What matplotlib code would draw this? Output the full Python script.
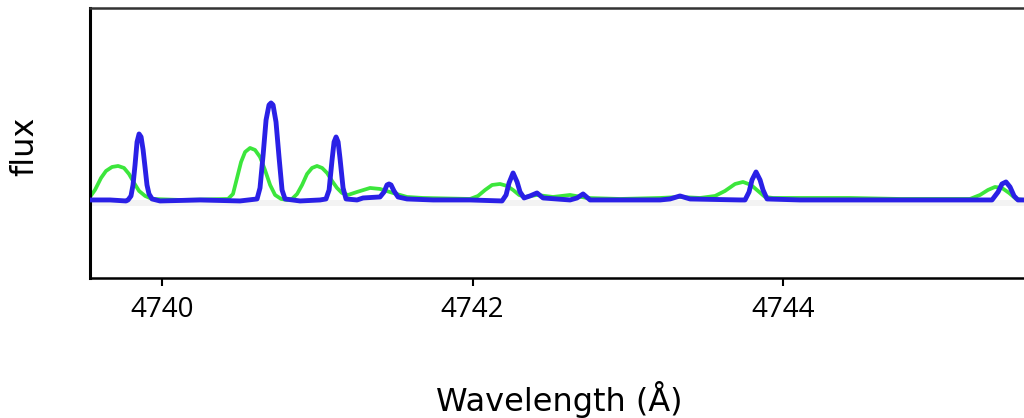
import matplotlib
matplotlib.use("Agg")
import matplotlib.pyplot as plt

# spectrum samples (wavelength in Angstrom, normalised flux)
blue_wave = [4739.536, 4739.665, 4739.768, 4739.781, 4739.800, 4739.813, 4739.826,
             4739.839, 4739.852, 4739.865, 4739.878, 4739.891, 4739.903, 4739.916,
             4739.936, 4739.987, 4740.245, 4740.502, 4740.612, 4740.631, 4740.651,
             4740.670, 4740.689, 4740.702, 4740.715, 4740.734, 4740.754, 4740.773,
             4740.792, 4740.889, 4741.018, 4741.056, 4741.076, 4741.095, 4741.108,
             4741.121, 4741.134, 4741.146, 4741.166, 4741.185, 4741.256, 4741.295,
             4741.404, 4741.430, 4741.449, 4741.462, 4741.475, 4741.494, 4741.520,
             4741.578, 4741.746, 4741.984, 4742.190, 4742.216, 4742.235, 4742.261,
             4742.287, 4742.306, 4742.332, 4742.370, 4742.415, 4742.454, 4742.628,
             4742.673, 4742.712, 4742.757, 4742.950, 4743.208, 4743.272, 4743.336,
             4743.401, 4743.723, 4743.755, 4743.781, 4743.800, 4743.826, 4743.852,
             4743.871, 4743.897, 4744.109, 4744.431, 4744.754, 4745.076, 4745.346,
             4745.385, 4745.410, 4745.436, 4745.462, 4745.488, 4745.513, 4745.552]
blue_flux = [1.00, 1.00, 0.99, 1.00, 1.04, 1.15, 1.35,
             1.58, 1.66, 1.63, 1.50, 1.32, 1.15, 1.06,
             1.01, 0.99, 1.00, 0.99, 1.01, 1.12, 1.45,
             1.80, 1.95, 1.97, 1.95, 1.78, 1.42, 1.10,
             1.01, 0.99, 1.00, 1.01, 1.10, 1.40, 1.58,
             1.63, 1.58, 1.42, 1.12, 1.01, 1.00, 1.02,
             1.03, 1.08, 1.15, 1.16, 1.15, 1.09, 1.03,
             1.01, 1.00, 1.00, 0.99, 1.05, 1.17, 1.27,
             1.18, 1.08, 1.02, 1.04, 1.07, 1.02, 1.00,
             1.02, 1.06, 1.00, 1.00, 1.00, 1.01, 1.04,
             1.01, 1.00, 1.00, 1.08, 1.20, 1.28, 1.20,
             1.10, 1.01, 1.00, 1.00, 1.00, 1.00, 1.00,
             1.08, 1.16, 1.18, 1.13, 1.04, 1.00, 1.00]

green_wave = [4739.536, 4739.568, 4739.607, 4739.639, 4739.678, 4739.717, 4739.755,
              4739.787, 4739.820, 4739.852, 4739.891, 4739.936, 4740.116, 4740.425,
              4740.457, 4740.483, 4740.509, 4740.535, 4740.567, 4740.599, 4740.631,
              4740.663, 4740.696, 4740.728, 4740.767, 4740.805, 4740.837, 4740.870,
              4740.902, 4740.934, 4740.966, 4740.998, 4741.031, 4741.063, 4741.095,
              4741.127, 4741.159, 4741.198, 4741.256, 4741.340, 4741.404, 4741.488,
              4741.578, 4741.681, 4741.984, 4742.035, 4742.081, 4742.126, 4742.177,
              4742.222, 4742.261, 4742.300, 4742.338, 4742.415, 4742.518, 4742.628,
              4742.737, 4742.950, 4743.208, 4743.336, 4743.465, 4743.562, 4743.626,
              4743.691, 4743.742, 4743.794, 4743.839, 4743.884, 4743.935, 4744.431,
              4744.754, 4745.204, 4745.269, 4745.320, 4745.365, 4745.410, 4745.456,
              4745.501, 4745.552]
green_flux = [1.03, 1.10, 1.22, 1.29, 1.33, 1.34, 1.32,
              1.26, 1.17, 1.09, 1.04, 1.01, 1.00, 1.01,
              1.06, 1.22, 1.38, 1.48, 1.52, 1.50, 1.43,
              1.30, 1.15, 1.05, 1.01, 1.00, 1.01, 1.06,
              1.15, 1.26, 1.32, 1.34, 1.32, 1.27, 1.19,
              1.12, 1.07, 1.05, 1.08, 1.12, 1.11, 1.07,
              1.03, 1.02, 1.01, 1.04, 1.10, 1.15, 1.16,
              1.14, 1.10, 1.05, 1.03, 1.05, 1.03, 1.05,
              1.02, 1.01, 1.02, 1.03, 1.02, 1.04, 1.09,
              1.16, 1.18, 1.15, 1.09, 1.03, 1.02, 1.02,
              1.01, 1.01, 1.05, 1.10, 1.13, 1.12, 1.07,
              1.01, 1.00]

x_ticks = [4740, 4742, 4744]
x_range = (4739.536, 4745.552)
y_range = (0.22, 2.92)

fig = plt.figure(figsize=(10.24, 4.18), dpi=100)
ax = fig.add_axes([0.0879, 0.335, 0.9121, 0.646])

ax.fill_between(x_range, 0.94, 1.0, color="#f3f3f3", lw=0, zorder=1)
ax.plot(green_wave, green_flux, color="#3ce63c", lw=2.7, zorder=2,
        solid_joinstyle="round", solid_capstyle="round")
ax.plot(blue_wave, blue_flux, color="#2a20e6", lw=3.5, zorder=3,
        solid_joinstyle="round", solid_capstyle="round")

ax.set_xlim(*x_range)
ax.set_ylim(*y_range)
ax.set_yticks([])
ax.set_xticks(x_ticks)
ax.set_xticklabels([str(t) for t in x_ticks], fontfamily="Open Sans", fontsize=20)
ax.tick_params(axis="x", length=6, width=1.5, pad=7)

ax.spines["right"].set_visible(False)
ax.spines["left"].set_linewidth(2.2)
ax.spines["bottom"].set_linewidth(1.8)
ax.spines["top"].set_linewidth(1.8)
ax.spines["top"].set_color("#333333")

fig.text(0.546, 1 - 400 / 418, "Wavelength (Å)", ha="center", va="center",
         fontsize=23, family="DejaVu Sans")
fig.text(25 / 1024, 1 - 146 / 418, "flux", ha="center", va="center",
         rotation=90, fontsize=23, family="DejaVu Sans")

fig.savefig("out.png", dpi=100)
